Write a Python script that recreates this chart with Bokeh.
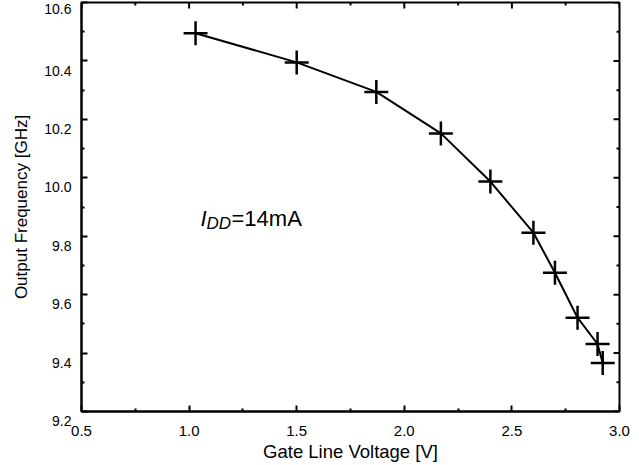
from bokeh.plotting import figure
from bokeh.models import LinearAxis, Range1d, FixedTicker, NumeralTickFormatter, ColumnDataSource
from bokeh.core.properties import value
from bokeh.embed import file_html
from bokeh.resources import INLINE

# Data
gate_voltage = [1.03, 1.50, 1.87, 2.17, 2.40, 2.60, 2.70, 2.805, 2.898, 2.922]
output_freq = [10.495, 10.395, 10.294, 10.152, 9.987, 9.812, 9.675, 9.521, 9.431, 9.366]
x_major = [0.5, 1.0, 1.5, 2.0, 2.5, 3.0]
x_minor = [0.75, 1.25, 1.75, 2.25, 2.75]
y_major = [9.2, 9.4, 9.6, 9.8, 10.0, 10.2, 10.4, 10.6]
y_minor = [9.3, 9.5, 9.7, 9.9, 10.1, 10.3, 10.5]
y_tick_labels = ["9.2", "9.4", "9.6", "9.8", "10.0", "10.2", "10.4", "10.6"]
x_label = "Gate Line Voltage [V]"
y_label = "Output Frequency [GHz]"
note_main = "I"
note_sub = "DD"
note_rest = "=14mA"

FONT = "Liberation Sans"
X0, X1 = 0.5, 3.0
Y0, Y1 = 9.2, 10.6
FRAME_W, FRAME_H = 538, 409
PX_X = (X1 - X0) / FRAME_W   # data units per pixel
PX_Y = (Y1 - Y0) / FRAME_H

p = figure(frame_width=FRAME_W, frame_height=FRAME_H, output_backend="svg", toolbar_location=None,
           x_range=Range1d(X0, X1), y_range=Range1d(Y0, Y1),
           x_axis_type=None, y_axis_type=None,
           min_border_left=81, min_border_top=2, min_border_right=12, min_border_bottom=30)
p.background_fill_color = "white"
p.border_fill_color = "white"
p.outline_line_color = "black"
p.outline_line_width = 2
p.xgrid.visible = False
p.ygrid.visible = False


def style(ax, label_size, title_size):
    ax.axis_line_color = "black"
    ax.axis_line_width = 2
    ax.major_tick_in = 6
    ax.major_tick_out = 0
    ax.minor_tick_in = 3
    ax.minor_tick_out = 0
    ax.major_tick_line_width = 2
    ax.minor_tick_line_width = 2
    ax.major_tick_line_color = "black"
    ax.minor_tick_line_color = "black"
    ax.major_label_text_font = FONT
    ax.major_label_text_font_size = label_size
    ax.major_label_text_color = "black"
    ax.axis_label_text_font = FONT
    ax.axis_label_text_font_size = title_size
    ax.axis_label_text_font_style = "normal"
    ax.axis_label_text_color = "black"
    ax.formatter = NumeralTickFormatter(format="0.0")


# bottom axis
xb = LinearAxis(ticker=FixedTicker(ticks=x_major, minor_ticks=x_minor), axis_label=x_label)
style(xb, "15px", "18.5px")
xb.major_label_standoff = 14
xb.axis_label_standoff = 2
p.add_layout(xb, "below")

# left axis; an empty first line drops each label about 8px below its tick, as in the reference
# (the top label is kept single-line: Bokeh pushes it inside the axis panel, which gives the same drop)
yl = LinearAxis(ticker=FixedTicker(ticks=y_major, minor_ticks=y_minor), axis_label=y_label)
style(yl, "14px", "17px")
yl.major_label_overrides = {v: (t if v >= Y1 else "\n" + t) for v, t in zip(y_major, y_tick_labels)}
yl.major_label_standoff = 10
yl.axis_label_standoff = 10
p.add_layout(yl, "left")

# inward ticks on right and top edges
TM, Tm = 6, 3
nM, nm = len(y_major), len(y_minor)
p.segment(x0=[X1] * nM, y0=y_major, x1=[X1 - TM * PX_X] * nM, y1=y_major, line_color="black", line_width=2)
p.segment(x0=[X1] * nm, y0=y_minor, x1=[X1 - Tm * PX_X] * nm, y1=y_minor, line_color="black", line_width=2)
p.segment(x0=x_major, y0=[Y1] * len(x_major), x1=x_major, y1=[Y1 - TM * PX_Y] * len(x_major),
          line_color="black", line_width=2)
p.segment(x0=x_minor, y0=[Y1] * len(x_minor), x1=x_minor, y1=[Y1 - Tm * PX_Y] * len(x_minor),
          line_color="black", line_width=2)

src = ColumnDataSource(dict(x=gate_voltage, y=output_freq))
p.line("x", "y", source=src, line_color="black", line_width=2)
p.scatter("x", "y", source=src, marker="cross", size=24, line_color="black", line_width=2.5)

# annotation I_DD=14mA
ax, ay = 1.053, 9.862
p.text(x=[ax], y=[ay], text=[note_main], text_font=value(FONT), text_font_size="22px",
       text_font_style="italic", text_baseline="alphabetic", text_align="left", text_color="black")
p.text(x=[ax], y=[ay], text=[note_sub], text_font=value(FONT), text_font_size="17px",
       text_font_style="italic", text_baseline="alphabetic", text_align="left", text_color="black",
       x_offset=6, y_offset=5)
p.text(x=[ax], y=[ay], text=[note_rest], text_font=value(FONT), text_font_size="22px",
       text_baseline="alphabetic", text_align="left", text_color="black", x_offset=31)

open("out.html", "w").write(file_html(p, INLINE))
